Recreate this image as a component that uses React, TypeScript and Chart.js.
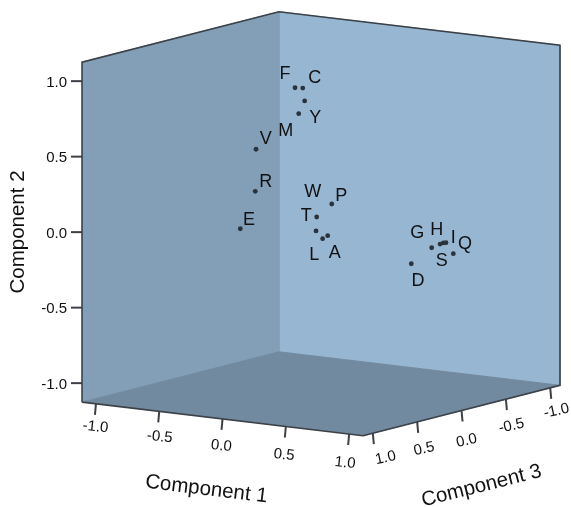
import React, { useEffect, useRef } from "react";
import { Chart, registerables } from "chart.js";

Chart.register(...registerables);

// Residue letters and their three component scores (depth is an estimate from the picture)
const letters = ["F", "C", "Y", "M", "V", "R", "E", "W", "P", "T", "L", "A", "G", "H", "S", "I", "Q", "D"];
const component1 = [0.005, 0.066, 0.011, -0.036, -0.233, -0.169, -0.217, 0.036, 0.085, 0.031, 0.083, 0.123, 0.524, 0.59, 0.616, 0.637, 0.695, 0.363];
const component2 = [0.946, 0.95, 0.844, 0.755, 0.53, 0.273, 0.035, 0.063, 0.139, -0.03, -0.076, -0.052, -0.182, -0.151, -0.141, -0.137, -0.204, -0.304];
const component3 = [0.3, 0.3, 0.2, 0.2, 0.4, 0.5, 0.6, 0.1, 0, 0.1, 0.1, 0.1, -0.5, -0.5, -0.5, -0.5, -0.5, -0.5];
const tickValues = [-1, -0.5, 0, 0.5, 1];

// Layout only: letter offsets from each dot
const letterDx = [-10, 12, 10.6, -13, 9.7, 10.4, 8.7, -4, 9.6, -9.7, -8.4, 7, -14.4, -3.3, -1.6, 7.3, 11.7, 6.7];
const letterDy = [-13.7, -10, 17.3, 17.3, -10.3, -9, -8.7, -25, -8.3, -15.3, 16.3, 17.6, -14.4, -13.7, 17.7, -4.4, -9.7, 17.3];
const c1TickLabelPos = [[95.5, 427], [159.7, 437], [221.4, 446], [284, 455], [345, 463]];
const c3TickLabelPos = [[385.5, 458], [424, 449], [466.6, 440.7], [511.5, 426], [556.5, 411]];

const R = 1.11;
const RY = 1.126;
const project = (c1: number, c2: number, c3: number) => ({
  x: 321 + 126.6 * c1 - 88.7 * c3,
  y: 223.7 + 15.1 * c1 + 22.7 * c3 - 151 * c2,
});

const FONT = '"Liberation Sans", Arial, sans-serif';
const EDGE = "#3c4148";

const poly = (pts: { x: number; y: number }[], color: string) => ({
  type: "scatter" as const,
  data: pts,
  showLine: true,
  fill: "shape",
  backgroundColor: color,
  borderColor: color,
  borderWidth: 1,
  pointRadius: 0,
  tension: 0,
  order: 10,
  clip: false,
});
const line = (pts: { x: number; y: number }[], width = 1.6) => ({
  type: "scatter" as const,
  data: pts,
  showLine: true,
  fill: false,
  borderColor: EDGE,
  borderWidth: width,
  pointRadius: 0,
  tension: 0,
  order: 5,
  clip: false,
});

const textPlugin = {
  id: "texts",
  afterDatasetsDraw(chart: any) {
    const { ctx, scales } = chart;
    const X = (v: number) => scales.x.getPixelForValue(v);
    const Y = (v: number) => scales.y.getPixelForValue(v);
    const put = (s: string, x: number, y: number, size: number, rot = 0, align: CanvasTextAlign = "center") => {
      ctx.save();
      ctx.translate(x, y);
      ctx.rotate((rot * Math.PI) / 180);
      ctx.font = `${size}px ${FONT}`;
      ctx.fillStyle = "#111";
      ctx.textAlign = align;
      ctx.textBaseline = "middle";
      ctx.fillText(s, 0, 0);
      ctx.restore();
    };
    letters.forEach((l, i) => {
      const p = project(component1[i], component2[i], component3[i]);
      put(l, X(p.x) + letterDx[i], Y(p.y) + letterDy[i], 18);
    });
    tickValues.forEach((t, i) => {
      const p = project(-R, t, R);
      put(t.toFixed(1), X(p.x) - 15, Y(p.y) + 1.5, 15, 0, "right");
      put(t.toFixed(1), c1TickLabelPos[i][0], c1TickLabelPos[i][1], 15, 6);
      put(t.toFixed(1), c3TickLabelPos[4 - i][0], c3TickLabelPos[4 - i][1], 15, -12);
    });
    put("Component 2", 18, 232, 20.5, -90);
    put("Component 1", 206.4, 489.4, 20.5, 7);
    put("Component 3", 481.5, 486, 20.5, -14);
  },
};

export default function App() {
  const ref = useRef<HTMLCanvasElement>(null);
  useEffect(() => {
    const c = (a: number, b: number, d: number) => project(a, b, d);
    const backT = c(-R, RY, -R);
    const backB = c(-R, -RY, -R);
    const leftT = c(-R, RY, R);
    const leftB = c(-R, -RY, R);
    const rightT = c(R, RY, -R);
    const rightB = c(R, -RY, -R);
    const front = c(R, -RY, R);

    const datasets: any[] = [
      {
        type: "scatter",
        data: letters.map((_, i) => project(component1[i], component2[i], component3[i])),
        pointRadius: 2.4,
        pointBorderWidth: 0,
        backgroundColor: "#2a323c",
        order: 1,
        clip: false,
      },
      poly([leftB, backB, rightB, front], "#728a9f"),
      poly([leftT, backT, backB, leftB], "#829fb7"),
      poly([backT, rightT, rightB, backB], "#97b6d2"),
      line([leftB, leftT, backT, rightT, rightB, front, leftB]),
    ];
    tickValues.forEach((t) => {
      const py = c(-R, t, R);
      datasets.push(line([py, { x: py.x - 11, y: py.y }], 2));
      const p1 = c(t, -RY, R);
      datasets.push(line([p1, { x: p1.x - 1, y: p1.y + 11 }], 2));
      const p3 = c(R, -RY, t);
      datasets.push(line([p3, { x: p3.x + 1, y: p3.y + 11 }], 2));
    });

    const chart = new Chart(ref.current as HTMLCanvasElement, {
      type: "scatter",
      data: { datasets },
      options: {
        animation: false,
        responsive: false,
        layout: { padding: 0, autoPadding: false },
        plugins: { legend: { display: false }, tooltip: { enabled: false }, title: { display: false } },
        events: [],
        scales: {
          x: { type: "linear", min: 0, max: 571, display: false },
          y: { type: "linear", min: 0, max: 507, reverse: true, display: false },
        },
      },
      plugins: [textPlugin],
    } as any);
    return () => chart.destroy();
  }, []);
  return (
    <canvas
      ref={ref}
      width={571}
      height={507}
      style={{ position: "fixed", left: 0, top: 0, display: "block", width: 571, height: 507 }}
    />
  );
}
